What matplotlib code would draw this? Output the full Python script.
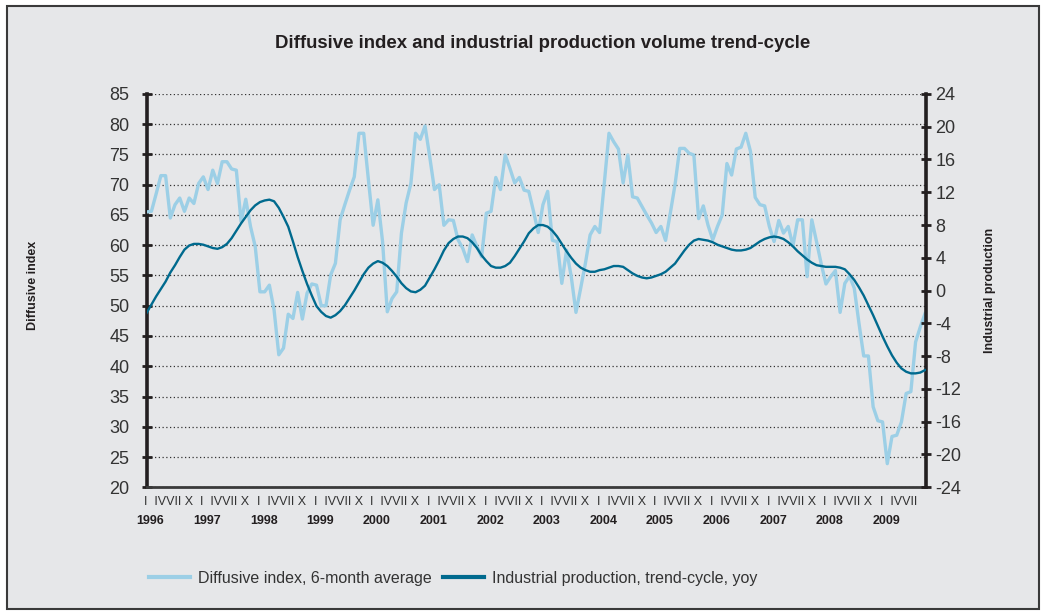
import matplotlib
matplotlib.use("Agg")
import matplotlib.pyplot as plt
import matplotlib.transforms as mtransforms
from matplotlib.patches import Rectangle
import numpy as np

plt.rcParams["font.family"] = ["Liberation Sans Narrow", "Liberation Sans", "DejaVu Sans"]
plt.rcParams["axes.unicode_minus"] = False

# monthly data, Jan 1996 .. Oct 2009
diffusive = [65.5, 65.6, 68.5, 71.5, 71.5, 64.5, 66.7, 67.8, 65.6, 67.8,
             66.9, 70.2, 71.3, 69.2, 72.4, 70.2, 73.8, 73.8, 72.6, 72.4,
             63.9, 67.6, 63.1, 59.8, 52.3, 52.3, 53.4, 49.3, 41.9, 43.0,
             48.6, 47.9, 52.2, 47.8, 52.1, 53.6, 53.4, 50.0, 50.0, 55.1,
             57.0, 64.2, 66.7, 69.1, 71.3, 78.5, 78.5, 70.8, 63.3, 67.5,
             60.6, 49.0, 51.2, 52.3, 62.0, 67.0, 70.2, 78.5, 77.5, 79.7,
             74.6, 69.2, 70.0, 63.3, 64.2, 64.1, 60.9, 59.5, 57.3, 61.7,
             59.8, 58.1, 65.3, 65.6, 71.2, 69.2, 74.9, 72.7, 70.3, 71.2,
             69.1, 68.9, 65.6, 62.1, 66.7, 68.9, 60.8, 60.6, 53.7, 59.2,
             54.8, 48.9, 52.9, 57.0, 61.7, 63.1, 62.1, 70.2, 78.5, 77.1,
             75.9, 70.3, 74.9, 68.0, 67.8, 66.4, 65.0, 63.7, 62.1, 63.1,
             60.8, 65.3, 70.0, 76.0, 76.0, 75.2, 74.9, 64.4, 66.5, 63.3,
             60.9, 63.1, 65.0, 73.5, 71.6, 75.9, 76.2, 78.5, 75.5, 67.9,
             66.7, 66.5, 63.1, 60.6, 64.1, 62.0, 63.1, 59.9, 64.2, 64.2,
             54.8, 64.2, 60.6, 56.9, 53.6, 54.8, 55.8, 48.9, 53.7, 54.9,
             52.9, 47.1, 41.7, 41.7, 33.3, 31.0, 30.8, 23.9, 28.4, 28.6,
             30.8, 35.5, 35.8, 44.0, 46.5, 48.7]

production = [-2.7, -1.7, -0.7, 0.2, 1.1, 2.2, 3.1, 4.1, 5.0, 5.5,
              5.7, 5.7, 5.6, 5.4, 5.2, 5.1, 5.3, 5.7, 6.4, 7.3,
              8.2, 9.0, 9.8, 10.4, 10.8, 11.0, 11.1, 10.9, 10.1, 9.0,
              7.8, 6.0, 4.1, 2.4, 0.8, -0.6, -1.9, -2.6, -3.1, -3.3,
              -3.0, -2.5, -1.8, -0.9, 0.0, 1.0, 2.0, 2.8, 3.3, 3.6,
              3.4, 3.0, 2.4, 1.7, 0.9, 0.3, -0.1, -0.2, 0.1, 0.6,
              1.6, 2.6, 3.7, 4.9, 5.8, 6.3, 6.6, 6.6, 6.4, 5.9,
              5.2, 4.3, 3.6, 3.0, 2.8, 2.8, 3.0, 3.4, 4.2, 5.1,
              6.0, 7.0, 7.6, 8.0, 8.0, 7.8, 7.3, 6.6, 5.7, 4.8,
              4.0, 3.3, 2.8, 2.5, 2.3, 2.3, 2.5, 2.6, 2.8, 3.0,
              3.0, 2.9, 2.5, 2.1, 1.8, 1.6, 1.5, 1.6, 1.8, 2.0,
              2.3, 2.8, 3.3, 4.1, 4.9, 5.6, 6.1, 6.3, 6.2, 6.1,
              5.9, 5.6, 5.4, 5.2, 5.0, 4.9, 4.9, 5.0, 5.2, 5.6,
              6.0, 6.3, 6.5, 6.6, 6.5, 6.3, 5.9, 5.4, 4.8, 4.3,
              3.8, 3.4, 3.1, 3.0, 2.9, 2.9, 2.9, 2.8, 2.6, 2.0,
              1.3, 0.4, -0.6, -1.8, -3.0, -4.3, -5.6, -6.8, -7.9, -8.8,
              -9.5, -9.9, -10.1, -10.1, -10.0, -9.7]

years = list(range(1996, 2010))
quarter_text = "I  IVVII X"
quarter_text_last = "I  IVVII"

light = "#9ccfe6"
dark = "#006a8e"
frame_bg = "#e6e7e9"

fig = plt.figure(figsize=(10.48, 6.14), dpi=100, facecolor="white")
fig.patches.append(Rectangle((0.007, 0.008), 0.984, 0.982, transform=fig.transFigure,
                             facecolor=frame_bg, edgecolor="#3a3a3a", linewidth=1.5,
                             zorder=-10))

ax = fig.add_axes([0.140, 0.2064, 0.744, 0.6406])
ax.set_facecolor("none")
months = np.arange(len(diffusive))
ax.plot(months, diffusive, color=light, linewidth=2.4, zorder=3)
ax.set_xlim(0, 165.3)
ax.set_ylim(20, 85)
ax.set_yticks(np.arange(20, 86, 5))
ax.set_xticks([])
ax.grid(axis="y", color="#333333", linestyle=(0, (1, 2)), linewidth=0.9)
ax.tick_params(axis="y", direction="inout", length=7, width=2, color="#231f20",
               labelsize=13, labelcolor="#333333", pad=9)
ax.spines["top"].set_visible(False)
ax.spines["left"].set_linewidth(2.6)
ax.spines["left"].set_color("#231f20")
ax.spines["bottom"].set_linewidth(2)
ax.spines["bottom"].set_color("#3a3a3a")

ax2 = ax.twinx()
ax2.plot(np.arange(len(production)), production, color=dark, linewidth=1.7, zorder=4)
ax2.set_ylim(-24, 24)
ax2.set_yticks(np.arange(-24, 25, 4))
ax2.tick_params(axis="y", direction="inout", length=7, width=2, color="#231f20",
                labelsize=13, labelcolor="#333333", pad=3)
ax2.spines["top"].set_visible(False)
ax2.spines["left"].set_visible(False)
ax2.spines["bottom"].set_visible(False)
ax2.spines["right"].set_linewidth(2.6)
ax2.spines["right"].set_color("#231f20")

trans = mtransforms.blended_transform_factory(ax.transData, fig.transFigure)
for i, yr in enumerate(years):
    start = i * 12
    txt = quarter_text_last if yr == years[-1] else quarter_text
    ax.text(start - 0.6, 1 - 502 / 614, txt, transform=trans, ha="left", va="center",
            fontsize=9, color="#333333")
    ax.text(start + 0.8, 1 - 521 / 614, str(yr), transform=trans, ha="center", va="center",
            fontsize=9, fontweight="bold", color="#231f20")

fig.text(0.518, 1 - 43 / 614, "Diffusive index and industrial production volume trend-cycle",
         ha="center", va="center", fontsize=13.4, fontweight="bold", color="#231f20")
fig.text(33 / 1048, 1 - 285 / 614, "Diffusive index", rotation=90, ha="center", va="center",
         fontsize=9, fontweight="bold", color="#231f20")
fig.text(990 / 1048, 1 - 290 / 614, "Industrial production", rotation=90, ha="center",
         va="center", fontsize=9, fontweight="bold", color="#231f20")

h1, = ax.plot([], [], color=light, linewidth=3)
h2, = ax.plot([], [], color=dark, linewidth=3)
fig.legend([h1, h2], ["Diffusive index, 6-month average",
                      "Industrial production, trend-cycle, yoy"],
           loc="center left", bbox_to_anchor=(0.128, 1 - 578 / 614), ncol=2, frameon=False,
           fontsize=11.5, handlelength=2.6, handletextpad=0.5, columnspacing=0.7,
           labelcolor="#333333")

fig.savefig("out.png", dpi=100, facecolor="white")
